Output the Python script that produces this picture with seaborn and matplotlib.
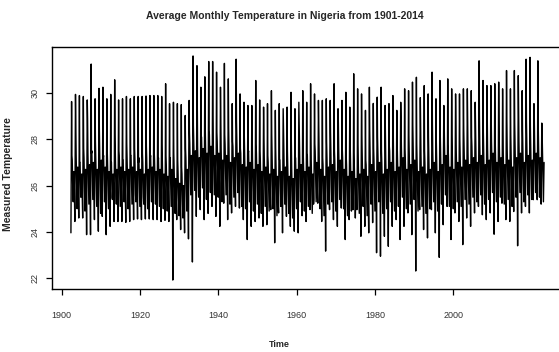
import numpy as np
import pandas as pd
import matplotlib
matplotlib.use("Agg")
import matplotlib.pyplot as plt
import seaborn as sns

# yearly spikes (one up-spike and one down-spike per year)
peak = [
    # 1902-1939
    29.63, 29.94, 29.89, 29.85, 29.70, 31.25, 29.75, 30.20, 30.25, 29.75,
    29.94, 30.57, 29.70, 29.75, 29.85, 29.75, 29.85, 29.85, 29.85, 29.87,
    29.89, 29.89, 29.89, 29.85, 30.40, 29.54, 29.60, 29.54, 29.50, 29.03,
    29.68, 31.60, 31.18, 30.25, 30.70, 31.36, 31.36, 30.90,
    # 1940-1980
    30.25, 31.28, 30.61, 29.54, 31.46, 29.96, 29.60, 29.46, 29.46, 30.54,
    29.70, 29.39, 29.54, 30.10, 29.25, 29.54, 29.32, 29.39, 30.03, 29.32,
    29.60, 30.10, 29.60, 30.40, 29.96, 29.68, 29.68, 29.75, 29.68, 30.40,
    29.32, 29.68, 30.03, 29.39, 30.83, 30.18, 29.96, 29.25, 30.25, 29.55, 29.82,
    # 1981-2022
    30.25, 29.46, 29.54, 29.89, 29.25, 29.60, 30.18, 30.10, 30.47, 30.68,
    29.80, 30.32, 29.96, 30.90, 29.75, 30.54, 29.46, 30.61, 30.18, 29.96,
    29.96, 30.18, 30.18, 30.10, 29.60, 31.39, 30.54, 30.32, 30.32, 30.40,
    30.47, 30.18, 30.97, 30.18, 30.97, 30.75, 30.10, 31.46, 31.54, 29.54,
    31.39, 28.70,
]
trough = [
    # 1902-1939
    23.96, 24.45, 24.60, 24.60, 23.88, 23.88, 24.53, 24.03, 24.67, 23.88,
    24.24, 24.45, 24.45, 24.45, 24.41, 24.45, 24.53, 24.56, 24.53, 24.56,
    24.56, 24.53, 24.53, 24.45, 24.50, 24.45, 21.92, 24.53, 24.10, 23.96,
    23.70, 22.70, 24.67, 24.96, 24.53, 24.80, 25.10, 24.67,
    # 1940-1980
    24.24, 25.24, 24.53, 24.82, 25.10, 25.03, 24.53, 23.67, 24.24, 24.45,
    24.60, 24.24, 24.31, 24.96, 23.53, 24.82, 23.96, 24.67, 24.24, 24.03,
    23.96, 24.70, 24.45, 24.96, 25.39, 25.24, 24.45, 23.17, 24.96, 24.53,
    24.24, 25.03, 23.67, 24.53, 24.96, 24.96, 23.81, 24.24, 23.96, 24.40, 23.10,
    # 1981-2022
    22.95, 23.81, 23.38, 24.24, 24.53, 23.67, 24.24, 24.82, 23.88, 22.31,
    24.96, 24.10, 23.74, 24.96, 23.96, 22.90, 24.31, 25.10, 23.67, 24.82,
    24.45, 23.45, 24.60, 24.24, 24.82, 25.10, 24.74, 24.53, 24.82, 23.90,
    24.45, 25.24, 24.53, 24.45, 24.88, 23.40, 24.82, 25.10, 24.82, 25.39,
    25.39, 25.20,
]
# centre of the dense black band, one value per year
level = [
    26.1, 26.3, 26.0, 26.2, 26.4, 26.5, 26.2, 26.6, 26.3, 26.1,
    26.0, 26.2, 26.3, 26.1, 26.2, 26.3, 26.1, 26.2, 26.0, 26.2,
    26.3, 26.1, 26.2, 26.0, 25.9, 26.2, 25.8, 25.6, 25.5, 26.2,
    26.8, 27.0, 26.7, 27.1, 26.9, 27.2, 26.8, 26.9, 26.6, 26.8,
    26.5, 26.7, 26.9, 26.4, 26.3, 26.5, 26.2, 26.4, 26.1, 26.3,
    26.0, 26.2, 25.9, 26.1, 26.3, 25.9, 25.8, 26.2, 26.4, 26.1,
    26.3, 26.0, 26.5, 26.2, 25.9, 26.3, 26.4, 26.1, 26.6, 26.2,
    25.9, 26.1, 25.8, 26.0, 26.2, 25.9, 26.4, 26.1, 26.5, 26.0,
    26.2, 26.5, 26.1, 26.3, 26.7, 26.2, 26.4, 26.6, 26.1, 26.3,
    26.0, 26.2, 26.5, 26.1, 26.4, 26.8, 26.3, 26.2, 26.5, 26.3,
    26.6, 26.4, 26.7, 26.5, 26.8, 26.4, 26.6, 26.9, 26.5, 26.7,
    26.4, 26.6, 26.3, 26.7, 26.9, 26.5, 26.8, 26.6, 26.9, 26.7,
    26.5,
]
# secondary high (month after the peak) and secondary low (late rainy season)
hi2 = [
    27.3, 28.4, 27.0, 27.6, 28.9, 27.4, 27.9, 28.5, 27.2, 27.6,
    26.9, 28.2, 27.5, 27.1, 27.8, 27.3, 27.6, 27.0, 27.4, 27.7,
    27.2, 27.5, 27.0, 27.8, 27.3, 26.9, 27.4, 27.1, 26.8, 27.6,
    28.3, 28.6, 29.2, 28.1, 28.8, 28.4, 29.0, 28.3, 28.7, 28.2,
    28.5, 27.9, 28.8, 27.6, 28.1, 27.4, 28.3, 27.8, 27.5, 28.0,
    27.3, 28.2, 27.6, 27.1, 28.4, 27.5, 27.9, 27.2, 28.6, 27.7,
    27.4, 28.1, 27.8, 28.5, 27.2, 27.9, 28.3, 27.5, 28.7, 27.6,
    27.3, 28.0, 27.4, 27.8, 28.2, 27.1, 28.4, 27.6, 28.1, 27.5,
    28.3, 27.7, 28.5, 27.9, 28.8, 27.6, 28.2, 28.6, 27.8, 28.4,
    27.5, 28.1, 28.7, 27.9, 28.3, 28.9, 27.8, 28.2, 28.6, 28.0,
    28.4, 28.8, 28.1, 28.6, 29.0, 28.3, 28.7, 28.9, 28.2, 28.8,
    28.5, 28.9, 28.2, 28.7, 29.1, 28.4, 28.8, 28.6, 29.0, 28.7,
    28.3,
]
lo2 = [
    25.3, 25.0, 25.5, 24.9, 25.2, 25.4, 25.1, 24.8, 25.3, 25.0,
    25.4, 25.2, 25.1, 25.3, 25.0, 25.2, 25.3, 25.1, 25.2, 25.0,
    25.3, 25.2, 25.1, 25.0, 24.9, 25.1, 24.8, 24.7, 24.6, 24.9,
    25.6, 25.8, 25.5, 25.9, 25.4, 25.7, 25.6, 25.5, 25.3, 25.6,
    25.2, 25.5, 25.7, 25.1, 25.0, 25.3, 24.9, 25.2, 24.8, 25.1,
    24.9, 25.0, 24.7, 25.1, 25.2, 24.8, 24.6, 25.0, 25.3, 24.9,
    25.1, 24.8, 25.3, 25.0, 24.7, 25.2, 25.3, 24.9, 25.4, 25.0,
    24.7, 24.9, 24.6, 24.8, 25.1, 24.7, 25.2, 24.9, 25.3, 24.8,
    25.0, 25.3, 24.9, 25.1, 25.5, 25.0, 25.2, 25.4, 24.9, 25.1,
    24.8, 25.0, 25.3, 24.9, 25.2, 25.6, 25.1, 25.0, 25.3, 25.1,
    25.4, 25.2, 25.5, 25.3, 25.6, 25.2, 25.4, 25.7, 25.3, 25.5,
    25.2, 25.4, 25.1, 25.5, 25.7, 25.3, 25.6, 25.4, 25.7, 25.5,
    25.3,
]
# remaining months relative to the band centre
month_offset = [None, 0.8, None, None, 1.0, 0.3, -0.5, None, -0.2, 0.5, 0.1, -0.8]

start = 1902.4
n_months = 1450

rows = []
for i in range(n_months):
    yr, m = divmod(i, 12)
    t = start + i / 12
    if m == 0:
        v = trough[yr]
    elif m == 2:
        v = peak[yr]
    elif m == 3:
        v = hi2[yr]
    elif m == 7:
        v = lo2[yr]
    else:
        v = level[yr] + month_offset[m]
    rows.append((t, v))
df = pd.DataFrame(rows, columns=["Time", "Temp"])

sns.set_theme(style="white")
plt.rcParams["font.family"] = ["Liberation Sans", "DejaVu Sans"]

fig = plt.figure(figsize=(5.59, 3.52), dpi=100)
ax = fig.add_axes([52 / 559, 63 / 352, 511 / 559, 242 / 352])

sns.lineplot(data=df, x="Time", y="Temp", color="black", linewidth=1.0,
             estimator=None, ax=ax)

# R style 4% padding
tmin, tmax = df["Time"].min(), df["Time"].max()
vmin, vmax = df["Temp"].min(), df["Temp"].max()
ax.set_xlim(tmin - 0.04 * (tmax - tmin), tmax + 0.04 * (tmax - tmin))
ax.set_ylim(vmin - 0.04 * (vmax - vmin), vmax + 0.04 * (vmax - vmin))

ax.set_xticks(range(1900, 2001, 20))
ax.set_yticks(range(22, 31, 2))
ax.tick_params(axis="both", direction="out", length=4, width=0.9, color="black",
               labelsize=6.5, labelcolor="#333333", bottom=True, left=True)
ax.tick_params(axis="x", pad=12)
ax.tick_params(axis="y", pad=5)
for lab in ax.get_yticklabels():
    lab.set_rotation(90)
    lab.set_va("center")

for s in ax.spines.values():
    s.set_color("black")
    s.set_linewidth(1.0)

ax.set_xlabel("Time", fontsize=6.5, fontweight="bold")
ax.set_ylabel("Measured Temperature", fontsize=7.5, fontweight="bold")
ax.xaxis.set_label_coords((279 - 52) / 511, -0.21)
ax.yaxis.set_label_coords((13 - 52) / 511, 0.475)

fig.text(284.5 / 559, 1 - 16 / 352, "Average Monthly Temperature in Nigeria from 1901-2014",
         ha="center", va="center", fontsize=7.5, fontweight="bold")

fig.savefig("out.png", dpi=100)
